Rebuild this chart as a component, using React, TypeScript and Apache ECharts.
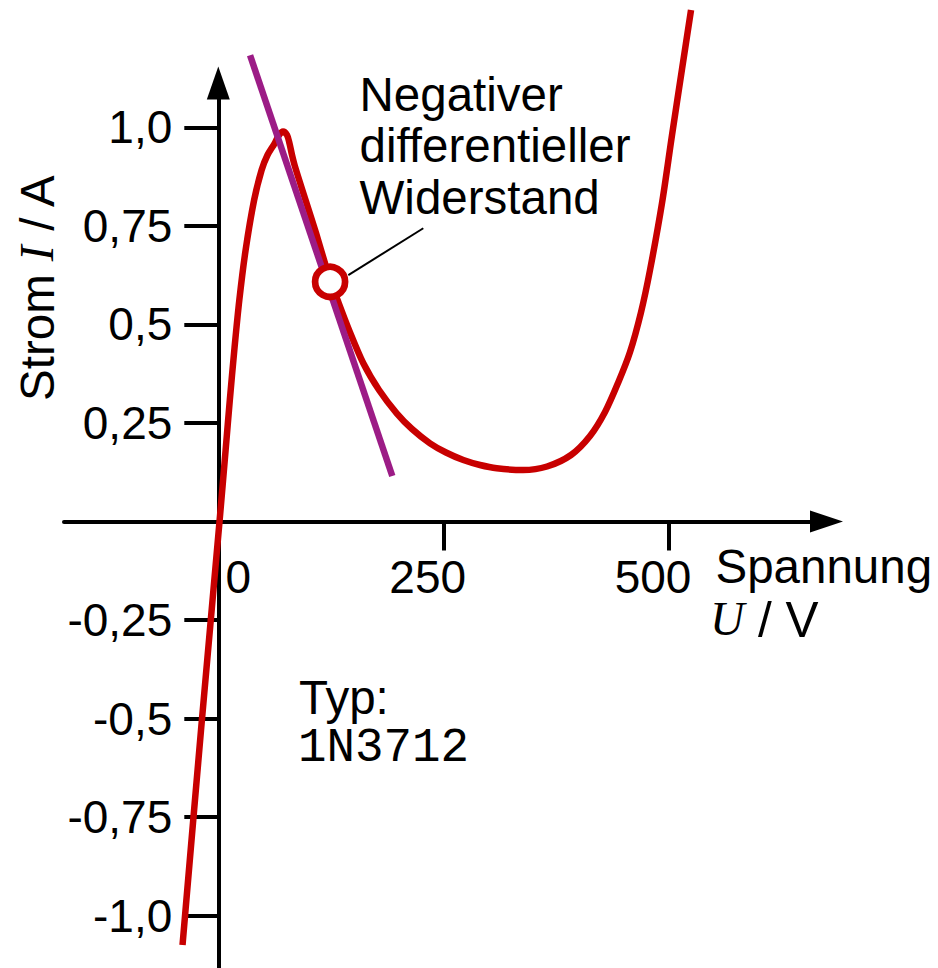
import React, { useEffect, useRef } from "react";
import * as echarts from "echarts";

// Tunnel diode I-U characteristic (1N3712)
const curveU = [-39.72, -19.19, 1.33, 8.1, 12.76, 17.75, 23.3, 30.29, 39.72, 48.04, 54.58, 62.35, 67.34, 71.78, 76.22, 78.99, 81.76, 85.09, 96.74, 108.39, 119.48, 125.03, 132.24, 145.0, 160.86, 178.28, 197.91, 214.89, 234.86, 252.61, 271.8, 290.33, 308.85, 338.03, 364.66, 391.28, 412.36, 429.0, 443.42, 456.73, 468.94, 478.92, 492.23, 503.33, 514.42, 524.42];
const curveI = [-1.0743, -0.5289, 0.0, 0.1814, 0.3082, 0.4351, 0.5619, 0.6887, 0.8156, 0.8917, 0.9297, 0.9589, 0.9805, 0.9893, 0.9805, 0.9589, 0.9297, 0.9001, 0.8156, 0.7319, 0.6464, 0.6076, 0.5619, 0.4858, 0.4013, 0.3336, 0.2745, 0.2347, 0.1984, 0.175, 0.156, 0.1433, 0.135, 0.1306, 0.1395, 0.1687, 0.2169, 0.2778, 0.3513, 0.43, 0.531, 0.638, 0.808, 0.9805, 1.1479, 1.2976];

// tangent (negative differential resistance)
const tangentU = [35.2, 193.0];
const tangentI = [1.183, 0.1154];

// marked operating point and leader line to the annotation
const markerU = [124.0];
const markerI = [0.608];
const leaderU = [144.2, 227.4];
const leaderI = [0.625, 0.744];

// axes
const xTickValues = [250, 500];
const xLabelValues = [0, 250, 500];
const xLabelTexts = ["0", "250", "500"];
const yTickValues = [-1, -0.75, -0.5, -0.25, 0.25, 0.5, 0.75, 1];
const yLabelTexts = ["-1,0", "-0,75", "-0,5", "-0,25", "0,25", "0,5", "0,75", "1,0"];

const annotationLines = ["Negativer", "differentieller", "Widerstand"];

const RED = "#c80000";
const PURPLE = "#9c1c86";
const FONT = "Liberation Sans";
const SERIF = "Liberation Serif";
const MONO = "Liberation Mono";
const FS = 46;
const FT = 47.5;

export default function App() {
  const ref = useRef<HTMLDivElement>(null);

  useEffect(() => {
    const chart = echarts.init(ref.current as HTMLDivElement, null, { renderer: "svg" });
    const textBase = { fontFamily: FONT, fontSize: FT, fill: "#000" };
    const option: any = {
      animation: false,
      backgroundColor: "#ffffff",
      grid: { left: 64, top: 83, width: 762.5, height: 887, containLabel: false, outerBoundsMode: "none" },
      xAxis: {
        type: "value",
        min: -171.2,
        max: 674.7,
        offset: -448.5,
        splitLine: { show: false },
        axisLine: {
          onZero: false,
          symbol: ["none", "triangle"],
          symbolSize: [22, 33],
          lineStyle: { color: "#000", width: 4 },
        },
        axisTick: { show: true, customValues: xTickValues, length: 29, lineStyle: { color: "#000", width: 4 } },
        axisLabel: {
          customValues: xLabelValues,
          margin: 32,
          color: "#000",
          fontFamily: FONT,
          fontSize: FS,
          formatter: (v: number) => {
            const t = xLabelTexts[xLabelValues.indexOf(v)];
            return v === 0 ? `{r|${t}}` : `{l|${t}}`;
          },
          rich: {
            r: { fontFamily: FONT, fontSize: FS, color: "#000", padding: [0, 0, 0, 40] },
            l: { fontFamily: FONT, fontSize: FS, color: "#000", padding: [0, 32, 0, 0] },
          },
        },
      },
      yAxis: {
        type: "value",
        min: -1.1377,
        max: 1.1124,
        offset: -154.3,
        splitLine: { show: false },
        axisLine: {
          onZero: false,
          symbol: ["none", "triangle"],
          symbolSize: [23, 33],
          lineStyle: { color: "#000", width: 4 },
        },
        axisTick: { show: true, customValues: yTickValues, length: 34, lineStyle: { color: "#000", width: 4 } },
        axisLabel: {
          customValues: yTickValues,
          margin: 46,
          color: "#000",
          fontFamily: FONT,
          fontSize: FS,
          formatter: (v: number) => yLabelTexts[yTickValues.indexOf(v)],
        },
      },
      series: [
        {
          type: "line",
          data: curveU.map((u, i) => [u, curveI[i]]),
          smooth: 0.3,
          showSymbol: false,
          clip: false,
          silent: true,
          z: 2,
          lineStyle: { color: RED, width: 6.5, cap: "butt", join: "round" },
        },
        {
          type: "line",
          data: tangentU.map((u, i) => [u, tangentI[i]]),
          showSymbol: false,
          clip: false,
          silent: true,
          z: 3,
          lineStyle: { color: PURPLE, width: 6.5, cap: "butt" },
        },
        {
          type: "line",
          data: leaderU.map((u, i) => [u, leaderI[i]]),
          showSymbol: false,
          clip: false,
          silent: true,
          z: 3,
          lineStyle: { color: "#000", width: 2 },
        },
        {
          type: "scatter",
          data: markerU.map((u, i) => [u, markerI[i]]),
          symbol: "circle",
          symbolSize: 30,
          clip: false,
          silent: true,
          z: 5,
          itemStyle: { color: "#ffffff", borderColor: RED, borderWidth: 6.7, opacity: 1 },
        },
      ],
      graphic: [
        {
          type: "text",
          x: 37,
          y: 287.5,
          rotation: Math.PI / 2,
          silent: true,
          style: {
            ...textBase,
            text: "Strom {i|I} / A",
            align: "center",
            verticalAlign: "middle",
            rich: { i: { fontFamily: SERIF, fontStyle: "italic", fontSize: FT, fill: "#000" } },
          },
        },
        ...annotationLines.map((t, k) => ({
          type: "text",
          x: 359.5,
          y: 94 + k * 51.5,
          silent: true,
          style: { ...textBase, text: t, align: "left", verticalAlign: "middle" },
        })),
        {
          type: "text",
          x: 715.5,
          y: 566.8,
          silent: true,
          style: { ...textBase, text: "Spannung", align: "left", verticalAlign: "middle" },
        },
        {
          type: "text",
          x: 710,
          y: 619,
          silent: true,
          style: {
            ...textBase,
            text: "{i|U}{s| / V}",
            align: "left",
            verticalAlign: "middle",
            rich: {
              i: { fontFamily: SERIF, fontStyle: "italic", fontSize: FT, fill: "#000" },
              s: { fontFamily: FONT, fontSize: 49.5, fill: "#000" },
            },
          },
        },
        {
          type: "text",
          x: 299,
          y: 697,
          silent: true,
          style: { ...textBase, text: "Typ:", align: "left", verticalAlign: "middle" },
        },
        {
          type: "text",
          x: 298,
          y: 747.7,
          silent: true,
          style: { fontFamily: MONO, fontSize: FT, fill: "#000", text: "1N3712", align: "left", verticalAlign: "middle" },
        },
      ],
    };
    chart.setOption(option);
    return () => chart.dispose();
  }, []);

  return (
    <div
      ref={ref}
      style={{ position: "absolute", left: 0, top: 0, width: 938, height: 968, background: "#fff" }}
    />
  );
}
